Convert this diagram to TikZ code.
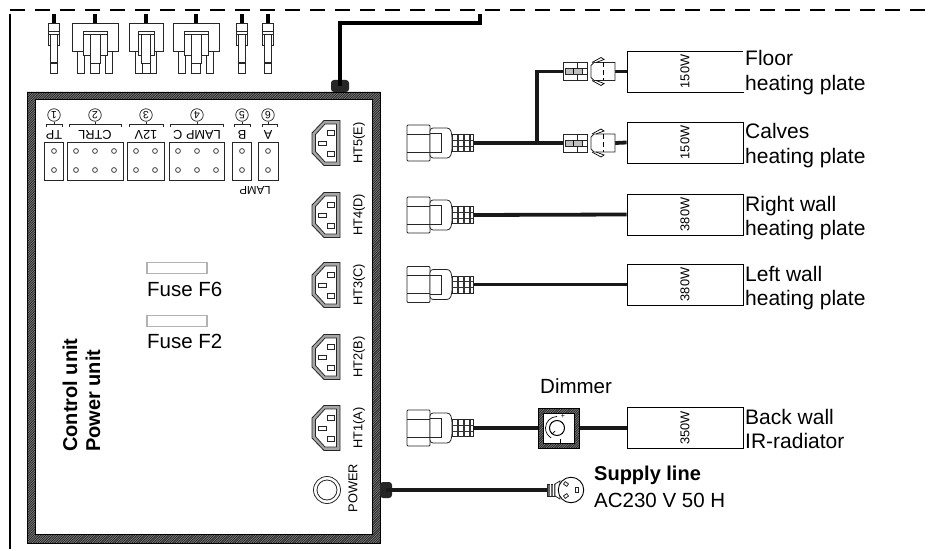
\documentclass[tikz,border=0pt]{standalone}
\usepackage{fontspec}
\setmainfont{Liberation Sans}
\newcommand{\fs}[1]{\fontsize{#1}{#1}\selectfont}
\tikzset{
  base/.style={line width=0.8pt,draw=black!85},
  wire/.style={line width=3.8pt,draw=black!90,line cap=butt},
  plate/.style={draw=black,line width=0.8pt,minimum width=116pt,minimum height=41pt,inner sep=0pt,fill=white},
  lab/.style={anchor=base west,inner sep=0pt,font=\fs{21}},
  smalllab/.style={inner sep=0pt,font=\fs{12.8}},
  bk/.style={line width=0.8pt,draw=black!85},
  num/.style={draw=black!85,circle,line width=0.7pt,minimum size=12.5pt,inner sep=0pt,font=\fs{10.5},rotate=180},
  holebox/.style={draw=black!85,line width=0.8pt,fill=white,inner sep=0pt},
  fuse/.style={draw=black!30,line width=1.2pt,minimum width=60pt,minimum height=11pt,inner sep=0pt,fill=white},
  smallplug/.pic={
    \fill[black] (-2,-9) rectangle (2,0);
    \draw[base,fill=white] (-5.5,0) rectangle (5.5,22);
    \draw[base] (-5.5,8) -- (5.5,8) (-5.5,11) -- (5.5,11);
    \draw[base,fill=white] (-3.5,11) rectangle (3.5,40);
    \draw[base,fill=white] (-3.5,40) rectangle (3.5,50);
    \draw[line width=1.4pt,black!85] (-3.5,40) -- (3.5,40);},
  threeplug/.pic={
    \fill[black] (-2,-9) rectangle (2,0);
    \draw[base,fill=white] (-18,20) rectangle (-11,50);
    \draw[base,fill=white] (10,20) rectangle (17,50);
    \draw[base,fill=white] (-23,0) rectangle (23,28);
    \draw[base,fill=white] (-12,8) rectangle (12,32);
    \draw[base] (-12,11) -- (12,11);
    \draw[base,fill=white] (-5,11) rectangle (5,40);
    \draw[base,fill=white] (-4.5,40) rectangle (4.5,50);},
  twoplug/.pic={
    \fill[black] (-2,-9) rectangle (2,0);
    \draw[base,fill=white] (-10.5,20) rectangle (-4,50);
    \draw[base,fill=white] (4,20) rectangle (10.5,50);
    \draw[base,fill=white] (-17,0) rectangle (17,28);
    \draw[base,fill=white] (-8,8) rectangle (8,32);
    \draw[base] (-8,11) -- (8,11);
    \draw[base,fill=white] (-4.5,11) rectangle (4.5,40);
    \draw[base,fill=white] (-4,40) rectangle (4,50);},
  inlet/.pic={
    \draw[base,fill=black!35] (14,-22.5) -- (-2,-22.5) -- (-14,-10) -- (-14,10) -- (-2,22.5) -- (14,22.5) -- cycle;
    \draw[base,fill=white] (10.5,-19) -- (-1,-19) -- (-10.5,-8.5) -- (-10.5,8.5) -- (-1,19) -- (10.5,19) -- cycle;
    \draw[base,fill=white] (1,-13) rectangle (8,-8);
    \draw[base,fill=white] (-8,-2) rectangle (0,2);
    \draw[base,fill=white] (1,8) rectangle (8,13);},
  iecplug/.pic={
    \draw[base,fill=white,rounded corners=1pt] (-66,-18) rectangle (-43,18);
    \draw[base] (-66,-9) -- (-43,-9) (-66,9) -- (-43,9);
    \draw[base,fill=white,rounded corners=3pt] (-43,-15) -- (-23,-15) -- (-21,-8) -- (-21,8) -- (-23,15) -- (-43,15) -- cycle;
    \draw[base] (-43,-9.5) -- (-32,-9.5) -- (-32,9.5) -- (-43,9.5);
    \draw[base,fill=white] (-21,-8.5) rectangle (0,8.5);
    \draw[line width=1.1pt,black!80] (-15,-8.5) -- (-15,8.5) (-9,-8.5) -- (-9,8.5) (-3,-8.5) -- (-3,8.5);
    \draw[line width=0.7pt,black!80] (-21,-3) -- (0,-3) (-21,3) -- (0,3);},
  malecon/.pic={
    \draw[base,fill=white] (0,-9) rectangle (24,9);
    \draw[base] (14,-9) -- (14,9);
    \draw[base,fill=black!25] (2,-3) rectangle (19,3);
    \draw[line width=1pt] (10,-3) -- (10,3);
    \draw[base] (14,3) -- (24,3) (14,-3) -- (24,-3);},
  femalecon/.pic={
    \draw[base,fill=white] (3,-9) -- (24,-9) -- (24,9) -- (3,9) -- (0,6) -- (0,-6) -- cycle;
    \draw[line width=0.7pt] (1,-9) -- (10,-14) -- (13,-12) -- (5,-9);
    \draw[line width=0.7pt] (1,9) -- (10,14) -- (13,12) -- (5,9);
    \draw[line width=0.9pt,dash pattern=on 5pt off 3pt] (12,-9) -- (12,9);},
}
\newcommand{\hatched}[8]{%
  \fill[black!85,even odd rule] (#1,#2) rectangle (#3,#4) (#5,#6) rectangle (#7,#8);
  \begin{scope}[even odd rule]
    \clip (#1,#2) rectangle (#3,#4) (#5,#6) rectangle (#7,#8);
    \pgfmathsetmacro{\hatchn}{int((#3-#1+#4-#2)/2.4)}
    \foreach \i in {0,...,\hatchn}{
      \draw[black!45,line width=0.5pt] ({#1+\i*2.4},#2) -- ++({-(#4-#2)},{#4-#2});
    }
  \end{scope}
  \draw[black,line width=0.6pt] (#1,#2) rectangle (#3,#4) (#5,#6) rectangle (#7,#8);
}
\begin{document}
\begin{tikzpicture}[x=1pt,y=-1pt]
\useasboundingbox (0,0) rectangle (935,551);
% enclosure outline
\coordinate (dashL) at (10,10);
\coordinate (dashR) at (935,10);
\coordinate (wallB) at (10,549);
\coordinate (wallT) at (10,14);
\draw[line width=2.4pt,dash pattern=on 14.5pt off 10.5pt] (dashL) -- (dashR);
\draw[line width=1.2pt] (wallT) -- (wallB);
% internal plugs
\pic at (54,23) {smallplug};
\pic at (95,23) {threeplug};
\pic at (146,23) {twoplug};
\pic at (196,23) {threeplug};
\pic at (242,23) {smallplug};
\pic at (268,23) {smallplug};
% unit frame
\hatched{27}{92}{380}{543}{35}{99}{372}{534}
% cable from unit to enclosure
\coordinate (topexit) at (480,14);
\node[fill=black!85,rounded corners=3pt,minimum width=18pt,minimum height=12pt,inner sep=0pt] (relieftop) at (340,86) {};
\draw[line width=3.4pt,black] (relieftop.center) -- (340,23) -- (480,23) -- (topexit);
% terminal blocks
\foreach \xa/\xb in {44/63,67/123,127/164,169/224,232/251,258/278}{
  \draw[holebox] (\xa,142) rectangle (\xb,180);
}
\foreach \hx in {54,76,95,114,136,155,178,197,216,242,268}{
  \draw[line width=0.7pt,black!85] (\hx,151) circle (2.4);
  \draw[line width=0.7pt,black!85] (\hx,170) circle (2.4);
}
\foreach \xa/\xb in {46/62,69/121,129/163,170/223,234/250,262/277}{
  \draw[bk] (\xa,127) -- (\xa,124) -- (\xb,124) -- (\xb,127);
}
\foreach \cx/\n in {54/1,95/2,146/3,197/4,242/5,268/6}{
  \node[num] (c\n) at (\cx,115) {\n};
  \draw[bk] (c\n) -- (\cx,124);
}
\node[smalllab,rotate=180] (ltp) at (54,134.5) {TP};
\node[smalllab,rotate=180] (lctrl) at (95,134.5) {CTRL};
\node[smalllab,rotate=180] (l12) at (146,134.5) {12V};
\node[smalllab,rotate=180] (llc) at (197,134.5) {LAMP C};
\node[smalllab,rotate=180] (lbb) at (242,134.5) {B};
\node[smalllab,rotate=180] (laa) at (268,134.5) {A};
\node[smalllab,rotate=180,font=\fs{11.5}] (llamp) at (255,190) {LAMP};
% inlets
\foreach \sy/\st in {143/HT5(E),215/HT4(D),285/HT3(C),357/HT2(B),428/HT1(A)}{
  \pic at (326,\sy) {inlet};
  \node[smalllab,rotate=90] at (359,\sy) {\st};
}
\node[draw=black!85,circle,line width=0.8pt,minimum size=27pt,inner sep=0pt] (pw) at (327,490) {};
\draw[line width=0.8pt,black!85] (pw.center) circle (10);
\node[smalllab,rotate=90] (lpw) at (353,488) {POWER};
% fuses
\node[fuse] (f6) at (177,268) {};
\node[lab,font=\fs{20.5}] (lf6) at (147,296) {Fuse F6};
\node[fuse] (f2) at (177,321) {};
\node[lab,font=\fs{20.5}] (lf2) at (147,348) {Fuse F2};
\node[lab,font=\fs{20}\bfseries,rotate=90] (cu) at (77,452) {Control unit};
\node[lab,font=\fs{20}\bfseries,rotate=90] (pu) at (100,452) {Power unit};
% plates
\node[plate] (floor) at (685,71.5) {\rotatebox{90}{\fs{12.8}150W}};
\draw[white,line width=1.2pt] (floor.north east) -- (floor.south east);
\node[plate] (calves) at (685,142.5) {\rotatebox{90}{\fs{12.8}150W}};
\node[plate] (rwall) at (685,214.5) {\rotatebox{90}{\fs{12.8}380W}};
\node[plate] (lwall) at (685,284.5) {\rotatebox{90}{\fs{12.8}380W}};
\node[plate] (bwall) at (685,428) {\rotatebox{90}{\fs{12.8}350W}};
% external plugs
\coordinate (pE) at (473,143);
\coordinate (pD) at (473,215);
\coordinate (pC) at (473,284.5);
\coordinate (pA) at (473,428);
\coordinate (split) at (537,143);
\coordinate (bendtop) at (537,71.5);
\coordinate (m1) at (563,71.5);
\coordinate (m2) at (563,143);
\coordinate (f1) at (615,71.5);
\coordinate (f2c) at (615,143);
\draw[wire] (pE) -- (split) -- (m2);
\draw[wire] (split) -- (bendtop) -- (m1);
\draw[wire] (f1) -- (floor.west);
\draw[wire] (f2c) -- (calves.west);
\draw[wire] (pD) -- (rwall.west);
\draw[wire] (pC) -- (lwall.west);
\pic at (473,143) {iecplug};
\pic at (473,215) {iecplug};
\pic at (473,284.5) {iecplug};
\pic at (473,428) {iecplug};
% connectors
\pic at (563,71.5) {malecon};
\pic at (563,143) {malecon};
\pic at (591,71.5) {femalecon};
\pic at (591,143) {femalecon};
% dimmer
\coordinate (dimL) at (538,428);
\coordinate (dimR) at (579,428);
\draw[wire] (pA) -- (dimL);
\draw[wire] (dimR) -- (bwall.west);
\hatched{538}{408}{579}{448}{543}{413}{574}{443}
\node[draw=black,circle,line width=1pt,minimum size=15pt,inner sep=0pt] (knob) at (557,428) {};
\draw[line width=0.7pt] (557,416.5) arc (-90:-240:11.5);
\draw[line width=0.7pt] (knob.center) ++(-2,3) -- ++(-3,3);
\draw[line width=1.6pt] (560.5,439) -- (560.5,443);
\node[inner sep=0pt,font=\fs{7}] (plus) at (563,416) {+};
\node[lab,font=\fs{20.5}] (dimlab) at (540,393) {Dimmer};
% supply line
\node[fill=black!85,rounded corners=3pt,minimum width=12pt,minimum height=16pt,inner sep=0pt] (reliefpw) at (386,490) {};
\coordinate (plugS) at (547,490);
\draw[wire] (reliefpw.center) -- (plugS);
\draw[base,fill=black!60] (547,484) rectangle (555,496);
\draw[line width=0.7pt,white] (550,484) -- (550,496) (553,484) -- (553,496);
\draw[base,fill=white] (555,484) -- (560,481) -- (560,499) -- (555,496) -- cycle;
\node[draw=black,circle,line width=0.9pt,minimum size=25.5pt,inner sep=0pt,fill=white] (acplug) at (571,490) {};
\draw[base,fill=white,rotate around={-35:(566,484)}] (564,482.5) rectangle (568,485.5);
\draw[base,fill=white,rotate around={35:(566,496)}] (564,494.5) rectangle (568,497.5);
\draw[base,fill=white] (575.5,487.5) rectangle (578.5,492.5);
\node[lab,font=\fs{20}\bfseries] (sl) at (594,480) {Supply line};
\node[lab,font=\fs{20.5}] (ac) at (594,507) {AC230 V 50 H};
% labels
\node[lab] (t1) at (745,66) {Floor};
\node[lab] (t2) at (745,91) {heating plate};
\node[lab] (t3) at (745,139) {Calves};
\node[lab] (t4) at (745,163) {heating plate};
\node[lab] (t5) at (745,211) {Right wall};
\node[lab] (t6) at (745,235) {heating plate};
\node[lab] (t7) at (745,281) {Left wall};
\node[lab] (t8) at (745,305) {heating plate};
\node[lab] (t9) at (745,424) {Back wall};
\node[lab] (t10) at (745,448) {IR-radiator};
\end{tikzpicture}
\end{document}
